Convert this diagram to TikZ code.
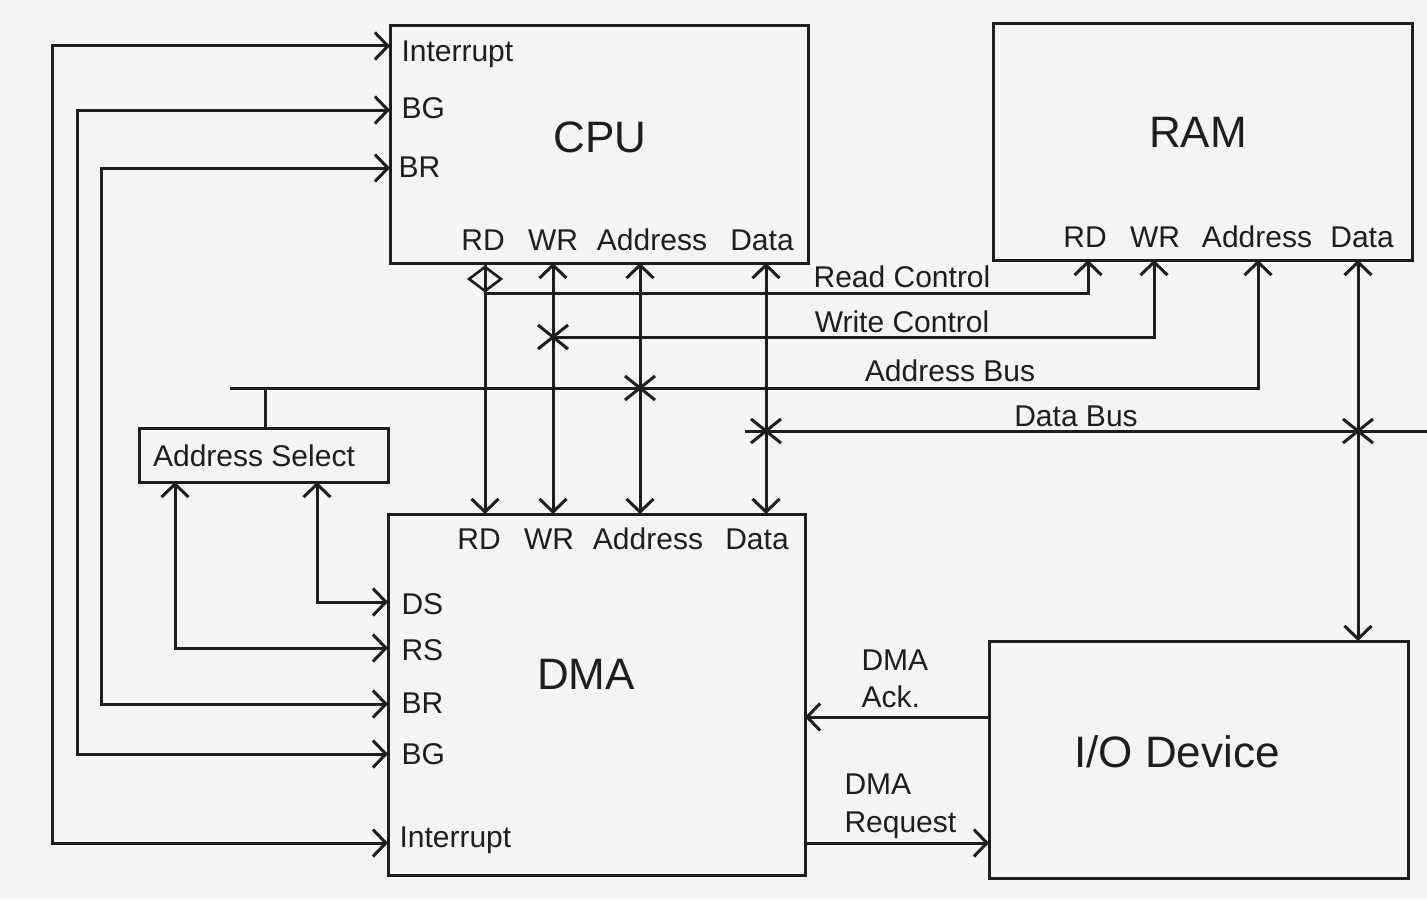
\documentclass[tikz,border=0pt]{standalone}
\usepackage{fontspec}
\setmainfont{Liberation Sans}
\usetikzlibrary{arrows.meta}
\definecolor{bg}{RGB}{244,244,244}
\definecolor{ink}{RGB}{30,30,30}
\begin{document}
\begin{tikzpicture}[x=0.5pt,y=-0.5pt,line width=1.5pt,color=ink,
  >={Straight Barb[length=6.5pt,width=13.5pt]},
  box/.style={draw=ink,rectangle,inner sep=0pt,outer sep=0pt,line width=1.5pt},
  lbl/.style={font=\fontsize{15}{18.5}\selectfont,text=ink,inner sep=0pt,text height=10.7pt,text depth=0pt},
  ttl/.style={font=\fontsize{22}{26}\selectfont,text=ink,inner sep=0pt,text height=15.8pt,text depth=0pt},
  jx/.pic={\draw[line width=1.5pt] (-15,-12)--(15,12) (-15,12)--(15,-12);}
]
\fill[bg] (0,0) rectangle (1427,899);
\useasboundingbox (0,0) rectangle (1427,899);

% boxes
\node[box,minimum width=209pt,minimum height=118.5pt] (cpu) at (599,144.5) {};
\node[box,minimum width=209.5pt,minimum height=118pt] (ram) at (1202.5,142) {};
\node[box,minimum width=208.5pt,minimum height=180.5pt] (dma) at (596.5,694.5) {};
\node[box,minimum width=209.5pt,minimum height=118.5pt] (io) at (1198.5,759.5) {};
\node[box,minimum width=124.5pt,minimum height=27pt] (asel) at (263.5,455) {};

% titles
\node[ttl] (cpuT) at (600,137) {CPU};
\node[ttl] (ramT) at (1198,132) {RAM};
\node[ttl] (dmaT) at (586,674) {DMA};
\node[ttl] (ioT) at (1177,752) {I/O Device};
\node[lbl] (aselT) at (254,456) {Address Select};

% pins
\coordinate (cInt) at (390,46);
\coordinate (cBG) at (390,110);
\coordinate (cBR) at (390,168);
\coordinate (dDS) at (388,602);
\coordinate (dRS) at (388,648);
\coordinate (dBR) at (388,704);
\coordinate (dBG) at (388,754);
\coordinate (dInt) at (388,843);
\coordinate (cRD) at (485,263);
\coordinate (cWR) at (553,263);
\coordinate (cAD) at (640,263);
\coordinate (cDA) at (766,263);
\coordinate (dRD) at (485,514);
\coordinate (dWR) at (553,514);
\coordinate (dAD) at (640,514);
\coordinate (dDA) at (766,514);
\coordinate (rRD) at (1088,260);
\coordinate (rWR) at (1154,260);
\coordinate (rAD) at (1258,260);
\coordinate (rDA) at (1358,260);
\coordinate (ioTop) at (1358,641);
\coordinate (ioAck) at (989,717);
\coordinate (dAck) at (805,717);
\coordinate (dReq) at (805,843);
\coordinate (ioReq) at (989,843);
\coordinate (aselB1) at (175,482);
\coordinate (aselB2) at (317,482);
\coordinate (aselTop) at (265,428);
\coordinate (jRC) at (485,293);
\coordinate (jWC) at (553,337);
\coordinate (jAB) at (640,388);
\coordinate (jDB) at (766,431);
\coordinate (jDR) at (1358,431);
\coordinate (abL) at (230,388);
\coordinate (abS) at (265,388);
\coordinate (dbL) at (745,431);
\coordinate (dbR) at (1427,431);

% left control lines
\draw[<->] (cInt) -| (52,500) |- (dInt);
\draw[<->] (cBG) -| (77,500) |- (dBG);
\draw[<->] (cBR) -| (101,500) |- (dBR);
\draw[<->] (aselB1) |- (dRS);
\draw[<->] (aselB2) |- (dDS);
\draw (aselTop) -- (abS);

% CPU - DMA lines
\draw[->] (cRD) -- (dRD);
\draw[line width=1.3pt] (469,279) -- (485,267) -- (501,279) -- (485,291) -- cycle;
\draw[<->] (cWR) -- (dWR);
\draw[<->] (cAD) -- (dAD);
\draw[<->] (cDA) -- (dDA);

% buses
\draw[->] (jRC) -| (rRD);
\draw[->] (jWC) -| (rWR);
\draw[->] (abL) -| (rAD);
\draw (dbL) -- (dbR);
\draw[<->] (rDA) -- (ioTop);
\pic at (jWC) {jx};
\pic at (jAB) {jx};
\pic at (jDB) {jx};
\pic at (jDR) {jx};

% DMA - IO
\draw[->] (ioAck) -- (dAck);
\draw[->] (dReq) -- (ioReq);

% CPU labels
\node[lbl,anchor=west] (cIntL) at (400,51) {Interrupt};
\node[lbl,anchor=west] (cBGL) at (400,108) {BG};
\node[lbl,anchor=west] (cBRL) at (397,167) {BR};
\node[lbl] (cRDL) at (483,240) {RD};
\node[lbl] (cWRL) at (553,240) {WR};
\node[lbl] (cADL) at (652,240) {Address};
\node[lbl] (cDAL) at (762,240) {Data};
% RAM labels
\node[lbl] (rRDL) at (1085,237) {RD};
\node[lbl] (rWRL) at (1155,237) {WR};
\node[lbl] (rADL) at (1257,237) {Address};
\node[lbl] (rDAL) at (1362,237) {Data};
% DMA labels
\node[lbl] (dRDL) at (479,539) {RD};
\node[lbl] (dWRL) at (549,539) {WR};
\node[lbl] (dADL) at (648,539) {Address};
\node[lbl] (dDAL) at (757,539) {Data};
\node[lbl,anchor=west] (dDSL) at (400,604) {DS};
\node[lbl,anchor=west] (dRSL) at (400,650) {RS};
\node[lbl,anchor=west] (dBRL) at (400,703) {BR};
\node[lbl,anchor=west] (dBGL) at (400,754) {BG};
\node[lbl,anchor=west] (dIntL) at (398,837) {Interrupt};
% bus labels
\node[lbl] (rcL) at (902,277) {Read Control};
\node[lbl] (wcL) at (902,322) {Write Control};
\node[lbl] (abLb) at (950,371) {Address Bus};
\node[lbl] (dbLb) at (1076,416) {Data Bus};
\node[lbl,anchor=west] (ack1) at (860,660) {DMA};
\node[lbl,anchor=west] (ack2) at (860,697) {Ack.};
\node[lbl,anchor=west] (req1) at (843,784) {DMA};
\node[lbl,anchor=west] (req2) at (843,822) {Request};
\end{tikzpicture}
\end{document}
